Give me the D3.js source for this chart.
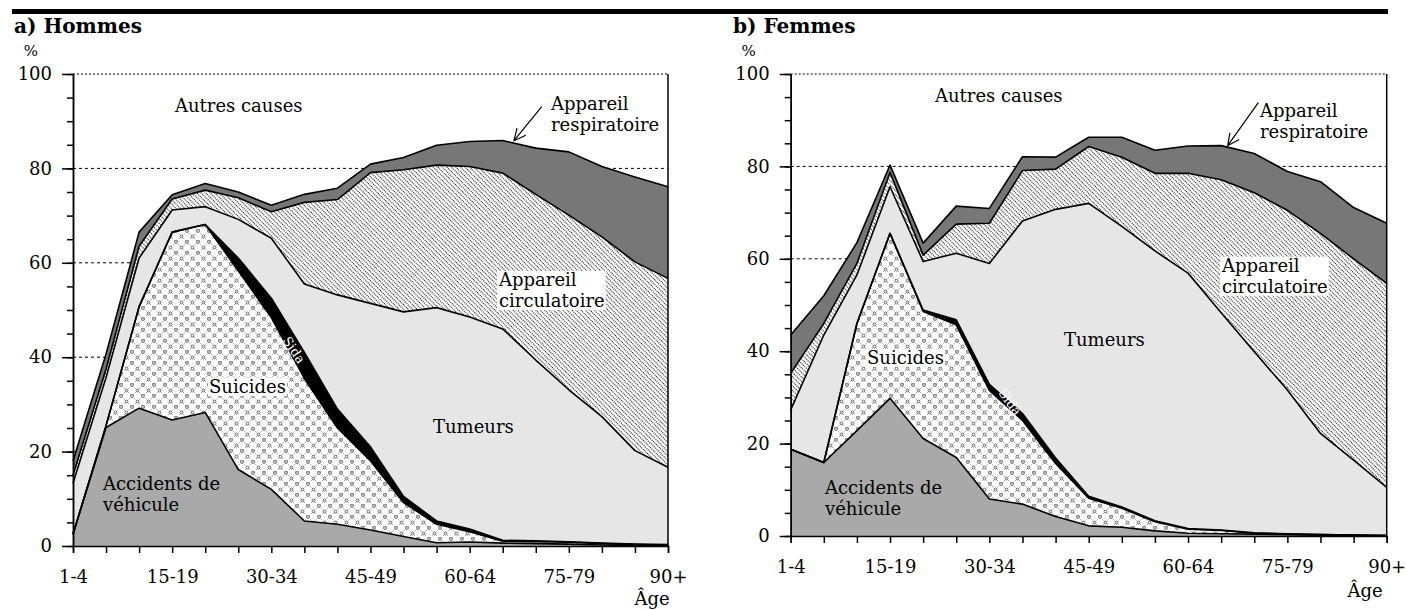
<!DOCTYPE html>
<html>
<head>
<meta charset="utf-8">
<script src="https://cdn.jsdelivr.net/npm/d3@7"></script>
<style>
  body { margin: 0; background: #fff; }
  text { font-family: "DejaVu Serif", serif; }
</style>
</head>
<body>
<script>
var w = 1407, h = 610;

var ages = ["1-4","5-9","10-14","15-19","20-24","25-29","30-34","35-39","40-44",
            "45-49","50-54","55-59","60-64","65-69","70-74","75-79","80-84","85-89","90+"];
var tickAges = ["1-4","15-19","30-34","45-49","60-64","75-79","90+"];
var yTicks = [0, 20, 40, 60, 80, 100];

// cumulative % = upper edge of each band
// a) Hommes
var hAccidents   = [2.5, 25.1, 29.2, 26.7, 28.3, 16.2, 12.0, 5.3, 4.6, 3.4, 2.0, 0.7, 0.85, 0.6, 0.5, 0.4, 0.2, 0.1, 0.1];
var hSuicides    = [2.5, 25.5, 50.7, 66.5, 68.1, 58.3, 48.4, 35.5, 25.0, 18.0, 9.2, 4.6, 3.0, 1.0, 0.9, 0.8, 0.5, 0.3, 0.2];
var hSida        = [2.5, 25.5, 50.7, 66.5, 68.1, 61.0, 52.5, 41.0, 29.0, 21.0, 10.5, 5.3, 3.6, 1.2, 1.1, 0.9, 0.6, 0.4, 0.3];
var hTumeurs     = [13.3, 35.7, 61.0, 71.2, 71.9, 69.2, 65.2, 55.5, 53.2, 51.4, 49.6, 50.5, 48.5, 46.0, 39.4, 33.1, 27.4, 20.2, 16.7];
var hCirculatoire= [15.0, 37.5, 63.5, 73.5, 75.4, 73.8, 70.8, 72.8, 73.4, 79.1, 79.7, 80.7, 80.4, 79.0, 74.5, 70.1, 65.5, 60.2, 56.7];
var hRespiratoire= [18.0, 40.7, 66.5, 74.4, 76.8, 75.0, 72.2, 74.5, 75.8, 80.9, 82.3, 84.9, 85.7, 85.9, 84.3, 83.5, 80.4, 78.2, 76.1];

// b) Femmes
var fAccidents   = [18.8, 15.9, 22.8, 29.8, 21.1, 17.0, 8.0, 6.9, 4.2, 2.2, 1.9, 1.1, 0.6, 0.5, 0.4, 0.3, 0.2, 0.1, 0.1];
var fSuicides    = [18.8, 15.9, 46.0, 65.5, 48.6, 45.7, 31.5, 25.0, 15.7, 8.2, 6.0, 3.1, 1.45, 1.2, 0.6, 0.4, 0.3, 0.2, 0.1];
var fSida        = [18.8, 15.9, 46.0, 65.5, 48.9, 46.8, 32.8, 26.5, 16.9, 8.6, 6.3, 3.3, 1.6, 1.3, 0.7, 0.45, 0.3, 0.2, 0.1];
var fTumeurs     = [27.3, 43.5, 56.5, 75.6, 59.4, 61.2, 59.0, 68.2, 70.7, 72.0, 67.0, 61.7, 56.9, 48.3, 39.9, 31.6, 22.2, 16.4, 10.5];
var fCirculatoire= [35.2, 46.0, 59.0, 78.7, 60.8, 67.5, 67.7, 79.1, 79.4, 84.3, 82.0, 78.5, 78.5, 77.1, 74.3, 70.5, 65.5, 60.0, 54.7];
var fRespiratoire= [43.5, 52.0, 63.5, 80.3, 63.4, 71.4, 70.9, 82.1, 82.0, 86.3, 86.3, 83.5, 84.4, 84.5, 82.8, 78.9, 76.7, 71.1, 67.7];

var svg = d3.select("body").append("svg")
    .attr("width", w)
    .attr("height", h);

var defs = svg.append("defs");

// lattice for suicides
var cross = defs.append("pattern")
    .attr("id", "cross")
    .attr("patternUnits", "userSpaceOnUse")
    .attr("width", 11).attr("height", 11);
cross.append("rect").attr("width", 11).attr("height", 11).attr("fill", "#fff");
cross.append("path")
    .attr("d", "M0,0L11,11M11,0L0,11")
    .attr("stroke", "#555").attr("stroke-width", 0.8)
    .attr("stroke-dasharray", "1,1.6");
[[5.5,5.5],[0,0],[11,0],[0,11],[11,11]].forEach(function(p){
  cross.append("circle").attr("cx", p[0]).attr("cy", p[1]).attr("r", 1.4)
      .attr("fill", "#fff").attr("stroke", "#444").attr("stroke-width", 0.8);
});

// fine dotted hatch for circulatoire
var dots = defs.append("pattern")
    .attr("id", "dots")
    .attr("patternUnits", "userSpaceOnUse")
    .attr("width", 2).attr("height", 3.2)
    .attr("patternTransform", "rotate(45)");
dots.append("rect").attr("width", 2).attr("height", 3.2).attr("fill", "#fff");
dots.append("rect").attr("width", 1.1).attr("height", 1.1).attr("fill", "#222");

// thick rule on top
svg.append("rect")
    .attr("x", 12).attr("y", 9)
    .attr("width", 1376).attr("height", 5)
    .attr("fill", "#000");

var fills = ["#a9a9a9", "url(#cross)", "#000", "#e6e6e6", "url(#dots)", "#777"];

var panels = [
  { title: "a) Hommes", tx: 14, x0: 73, x1: 668, yTop: 74, yBot: 546,
    series: [hAccidents, hSuicides, hSida, hTumeurs, hCirculatoire, hRespiratoire],
    autres: [175, 112], resp: [551, 110], arrow: [[541.7, 106.7], [514, 140.7]],
    circ: [499, 286], tum: [433, 433], sui: [209, 393], sida: [294, 350, 56],
    acc: [103, 490], age: [652, 605] },
  { title: "b) Femmes", tx: 733, x0: 790.7, x1: 1386.7, yTop: 74, yBot: 536,
    series: [fAccidents, fSuicides, fSida, fTumeurs, fCirculatoire, fRespiratoire],
    autres: [935, 102], resp: [1260, 116.7], arrow: [[1258.3, 102.7], [1227.7, 145.7]],
    circ: [1222, 271.7], tum: [1064, 346], sui: [867, 364], sida: [1010, 402, 55],
    acc: [825, 494], age: [1365, 597] }
];

panels.forEach(function(p) {
  var g = svg.append("g");

  var x = d3.scalePoint().domain(ages).range([p.x0, p.x1]);
  var y = d3.scaleLinear().domain([0, 100]).range([p.yBot, p.yTop]);

  g.append("text")
    .attr("x", p.tx).attr("y", 33)
    .style("font-size", "20px").style("font-weight", "bold")
    .text(p.title);

  g.append("text")
    .attr("x", p.x0 - 42).attr("y", 56)
    .attr("text-anchor", "middle")
    .style("font-size", "15px")
    .text("%");

  // dotted grid lines
  g.selectAll(".grid")
    .data([20, 40, 60, 80, 100])
    .enter().append("line")
    .attr("x1", p.x0).attr("x2", p.x1)
    .attr("y1", function(d){ return y(d); })
    .attr("y2", function(d){ return y(d); })
    .attr("stroke", "#000").attr("stroke-width", 1)
    .attr("stroke-dasharray", function(d){ return d == 100 ? "2,2" : "3,3"; });

  // bands
  p.series.forEach(function(s, k) {
    var below = k == 0 ? null : p.series[k - 1];
    var area = d3.area()
      .x(function(d, i){ return x(ages[i]); })
      .y0(function(d, i){ return below ? y(below[i]) : y(0); })
      .y1(function(d){ return y(d); });
    g.append("path")
      .datum(s)
      .attr("d", area)
      .attr("fill", fills[k]);
  });

  p.series.forEach(function(s) {
    var line = d3.line()
      .x(function(d, i){ return x(ages[i]); })
      .y(function(d){ return y(d); });
    g.append("path")
      .datum(s)
      .attr("d", line)
      .attr("fill", "none")
      .attr("stroke", "#000")
      .attr("stroke-width", 1.6)
      .attr("stroke-linejoin", "round");
  });

  // frame right side
  g.append("line")
    .attr("x1", p.x1).attr("x2", p.x1)
    .attr("y1", p.yTop).attr("y2", p.yBot)
    .attr("stroke", "#000").attr("stroke-width", 1.5);

  // axes
  var yAxis = d3.axisLeft(y).tickValues(yTicks).tickSize(11).tickPadding(10).tickSizeOuter(0);
  var yMinor = d3.axisLeft(y).tickValues(d3.range(0, 101, 5)).tickSize(6).tickFormat("").tickSizeOuter(0);
  var xAxis = d3.axisBottom(x).tickSize(7).tickPadding(17)
    .tickFormat(function(d){ return tickAges.indexOf(d) >= 0 ? d : ""; });

  [g.append("g").attr("transform", "translate(" + p.x0 + ",0)").call(yMinor),
   g.append("g").attr("transform", "translate(" + p.x0 + ",0)").call(yAxis),
   g.append("g").attr("transform", "translate(0," + p.yBot + ")").call(xAxis)]
  .forEach(function(a) {
    a.selectAll("path,line").attr("stroke", "#000").attr("stroke-width", 1.5);
    a.selectAll("text").style("font-size", "18px")
      .style("font-family", "'DejaVu Serif', serif").attr("fill", "#000");
  });

  g.append("text")
    .attr("x", p.age[0]).attr("y", p.age[1])
    .attr("text-anchor", "middle")
    .style("font-size", "18px")
    .text("Âge");

  // labels
  function label(pos, lines, boxed) {
    var t = g.append("text")
      .attr("x", pos[0]).attr("y", pos[1])
      .style("font-size", "18px");
    lines.forEach(function(l, i) {
      t.append("tspan").attr("x", pos[0]).attr("dy", i == 0 ? 0 : 21).text(l);
    });
    if (boxed) {
      var b = t.node().getBBox();
      g.insert("rect", function(){ return t.node(); })
        .attr("x", b.x - 1).attr("y", b.y + 2)
        .attr("width", b.width + 2).attr("height", b.height - 3)
        .attr("fill", "#fff");
    }
  }

  label(p.autres, ["Autres causes"]);
  label(p.resp, ["Appareil", "respiratoire"]);
  label(p.circ, ["Appareil", "circulatoire"], true);
  label(p.tum, ["Tumeurs"]);
  label(p.sui, ["Suicides"], true);
  label(p.acc, ["Accidents de", "véhicule"]);

  g.append("text")
    .attr("transform", "translate(" + p.sida[0] + "," + p.sida[1] + ") rotate(" + p.sida[2] + ")")
    .attr("text-anchor", "middle")
    .attr("dy", "0.35em")
    .attr("fill", "#fff")
    .style("font-size", "13px")
    .text("Sida");

  // arrow to respiratoire
  var a0 = p.arrow[0], a1 = p.arrow[1];
  var ang = Math.atan2(a1[1] - a0[1], a1[0] - a0[0]);
  var hl = 13, spread = 0.45;
  g.append("path")
    .attr("d", "M" + a0[0] + "," + a0[1] + "L" + a1[0] + "," + a1[1] +
      "M" + (a1[0] - hl * Math.cos(ang - spread)) + "," + (a1[1] - hl * Math.sin(ang - spread)) +
      "L" + a1[0] + "," + a1[1] +
      "L" + (a1[0] - hl * Math.cos(ang + spread)) + "," + (a1[1] - hl * Math.sin(ang + spread)))
    .attr("fill", "none")
    .attr("stroke", "#000")
    .attr("stroke-width", 1.2);
});
</script>
</body>
</html>
